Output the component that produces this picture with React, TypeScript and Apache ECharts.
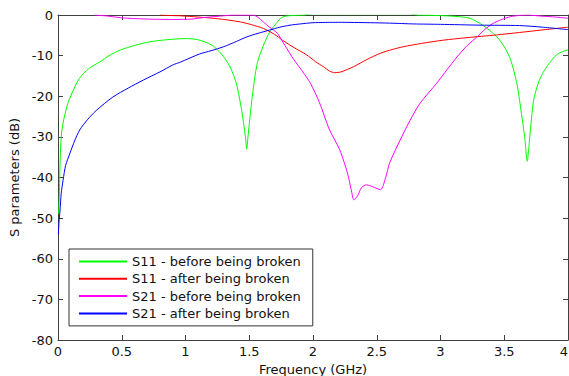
import React, { useEffect, useRef } from "react";
import * as echarts from "echarts";

const xTicks = [0, 0.5, 1, 1.5, 2, 2.5, 3, 3.5, 4];
const yTicks = [-80, -70, -60, -50, -40, -30, -20, -10, 0];

const seriesNames = [
  "S11 - before being broken",
  "S11 - after being broken",
  "S21 - before being broken",
  "S21 - after being broken",
];
const seriesColors = ["#00ff00", "#ff0000", "#ff00ff", "#0000ff"];

// S11 before being broken (green)
const s11BeforeX = [0.005, 0.01, 0.015, 0.02, 0.03, 0.05, 0.08, 0.12, 0.16, 0.2, 0.25, 0.33, 0.4, 0.49, 0.6, 0.72, 0.85, 1.0, 1.1, 1.2, 1.28, 1.35, 1.4, 1.44, 1.47, 1.48, 1.49, 1.52, 1.55, 1.57, 1.62, 1.66, 1.7, 1.76, 1.85, 1.93, 2.0, 2.75, 2.82, 2.95, 3.1, 3.23, 3.33, 3.44, 3.5, 3.55, 3.6, 3.62, 3.66, 3.68, 3.7, 3.73, 3.77, 3.8, 3.85, 3.91, 3.96, 4.0];
const s11BeforeY = [-49, -45, -38, -33, -28.5, -25, -21.5, -18.5, -16, -14.4, -13, -11.5, -10, -8.6, -7.5, -6.6, -6.1, -5.8, -6.1, -7.3, -9.5, -12.8, -17, -23.4, -30, -33, -30, -21, -14, -11, -6.8, -4.2, -2.5, -0.5, -0.1, 0, 0.3, 0.3, 0, -0.1, -0.3, -0.8, -2.5, -5.3, -7.8, -11, -17, -21, -30, -36, -30, -21, -16.5, -14.4, -12, -9.8, -9, -8.6];

// S11 after being broken (red)
const s11AfterX = [0.8, 0.85, 0.96, 1.1, 1.25, 1.43, 1.52, 1.61, 1.7, 1.76, 1.85, 1.95, 2.02, 2.08, 2.13, 2.17, 2.22, 2.32, 2.42, 2.53, 2.62, 2.71, 2.85, 3.02, 3.2, 3.44, 3.62, 3.88, 4.0];
const s11AfterY = [0, -0.1, -0.2, -0.5, -0.9, -1.7, -2.4, -3.3, -4.8, -6.2, -8, -9.8, -11.5, -12.7, -13.8, -14.2, -14, -12.7, -11, -9.4, -8.5, -7.8, -7, -6.2, -5.6, -4.9, -4.3, -3.4, -3.0];

// S21 before being broken (magenta)
const s21BeforeX = [0.29, 0.4, 0.5, 0.7, 0.9, 1.05, 1.15, 1.3, 1.37, 1.53, 1.57, 1.61, 1.66, 1.72, 1.78, 1.85, 1.92, 1.98, 2.05, 2.13, 2.21, 2.27, 2.3, 2.32, 2.35, 2.38, 2.42, 2.47, 2.53, 2.57, 2.6, 2.68, 2.76, 2.84, 2.97, 3.05, 3.13, 3.21, 3.29, 3.35, 3.41, 3.48, 3.55, 3.62, 3.68, 3.8, 3.9, 4.0];
const s21BeforeY = [0, -0.3, -0.7, -1.0, -1.1, -1.0, -0.6, -0.2, 0, 0, -0.6, -1.7, -3, -4.5, -7.5, -11, -14, -16.8, -21.5, -28.3, -33.2, -38.9, -43, -45.5, -44.5, -42.5, -41.8, -42.3, -43, -40, -36.5, -31, -26, -21.7, -16.8, -13.5, -10.3, -7.5, -5.3, -3.5, -2.1, -1.1, -0.4, -0.1, 0, -0.3, -0.5, -0.8];

// S21 after being broken (blue)
const s21AfterX = [0.003, 0.008, 0.016, 0.025, 0.04, 0.06, 0.094, 0.13, 0.17, 0.23, 0.3, 0.43, 0.55, 0.67, 0.8, 0.9, 0.96, 1.11, 1.2, 1.3, 1.4, 1.48, 1.57, 1.66, 1.74, 1.82, 1.9, 2.0, 2.2, 2.45, 2.6, 2.79, 3.0, 3.31, 3.62, 3.8, 4.0];
const s21AfterY = [-54, -51, -48, -44, -40.6, -37, -34, -31, -28.3, -25.8, -23.5, -20.2, -18, -16, -14, -12.3, -11.6, -9.6, -8.8, -7.8, -6.5, -5.4, -4.5, -3.7, -3.0, -2.5, -2.2, -1.9, -1.8, -1.9, -2.0, -2.2, -2.3, -2.5, -2.6, -3.0, -3.6];

const seriesX = [s11BeforeX, s11AfterX, s21BeforeX, s21AfterX];
const seriesY = [s11BeforeY, s11AfterY, s21BeforeY, s21AfterY];

const FONT = "DejaVu Sans";
const AXIS_COLOR = "#404040";
const TEXT_COLOR = "#111111";

export default function App() {
  const ref = useRef<HTMLDivElement>(null);
  useEffect(() => {
    if (!ref.current) return;
    const chart = echarts.init(ref.current, undefined, { renderer: "svg" });
    const axisBase = {
      type: "value" as const,
      axisLine: { show: true, onZero: false, lineStyle: { color: AXIS_COLOR, width: 1 } },
      axisTick: { show: true, inside: true, length: 5, lineStyle: { color: AXIS_COLOR } },
      splitLine: { show: false },
    };
    chart.setOption({
      animation: false,
      backgroundColor: "#ffffff",
      grid: { left: 58, right: 1, top: 15, bottom: 36, containLabel: false, outerBoundsMode: "none" },
      xAxis: [
        {
          ...axisBase,
          position: "bottom",
          min: xTicks[0],
          max: xTicks[xTicks.length - 1],
          interval: 0.5,
          name: "Frequency (GHz)",
          nameLocation: "middle",
          nameGap: 20,
          nameTextStyle: { fontFamily: FONT, fontSize: 13, color: TEXT_COLOR },
          axisLabel: {
            show: true,
            fontFamily: FONT,
            fontSize: 13,
            color: TEXT_COLOR,
            margin: 5,
            showMaxLabel: true,
            alignMaxLabel: "right",
          },
        },
        {
          ...axisBase,
          position: "top",
          min: xTicks[0],
          max: xTicks[xTicks.length - 1],
          interval: 0.5,
          axisLabel: { show: false },
        },
      ],
      yAxis: [
        {
          ...axisBase,
          position: "left",
          min: yTicks[0],
          max: yTicks[yTicks.length - 1],
          interval: 10,
          name: "S parameters (dB)",
          nameLocation: "middle",
          nameGap: 36,
          nameTextStyle: { fontFamily: FONT, fontSize: 13, color: TEXT_COLOR },
          axisLabel: { show: true, fontFamily: FONT, fontSize: 13, color: TEXT_COLOR, margin: 5 },
        },
        {
          ...axisBase,
          position: "right",
          min: yTicks[0],
          max: yTicks[yTicks.length - 1],
          interval: 10,
          axisLabel: { show: false },
        },
      ],
      legend: {
        show: true,
        orient: "vertical",
        left: 69,
        top: 249,
        backgroundColor: "#ffffff",
        borderColor: "#333333",
        borderWidth: 1,
        borderRadius: 0,
        padding: [6, 12, 6, 9],
        itemWidth: 48,
        itemHeight: 14,
        itemGap: 4.3,
        itemStyle: { color: "transparent", borderWidth: 0, opacity: 0 },
        textStyle: { fontFamily: FONT, fontSize: 13, color: TEXT_COLOR },
        data: seriesNames,
      },
      series: seriesNames.map((name, i) => ({
        name,
        type: "line",
        xAxisIndex: 0,
        yAxisIndex: 0,
        showSymbol: false,
        symbol: "none",
        smooth: 0.25,
        clip: true,
        color: seriesColors[i],
        lineStyle: { color: seriesColors[i], width: 1 },
        data: seriesX[i].map((x, j) => [x, seriesY[i][j]]),
        z: 2,
      })),
    });
    return () => chart.dispose();
  }, []);
  return (
    <div
      ref={ref}
      style={{ position: "fixed", left: 0, top: 0, width: 569, height: 376, background: "#fff" }}
    />
  );
}
